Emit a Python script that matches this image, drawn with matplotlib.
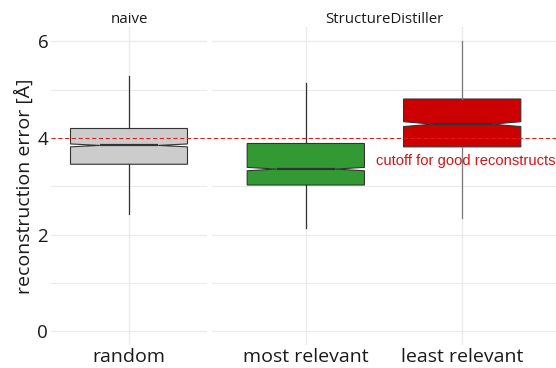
import matplotlib
matplotlib.use("Agg")
import matplotlib.pyplot as plt
from matplotlib.transforms import blended_transform_factory

# facets and the categories inside each
facets = ["naive", "StructureDistiller"]
facet_groups = [["random"], ["most relevant", "least relevant"]]

# box statistics per category (reconstruction error, Å), in facet order
whislo = [2.43, 2.14, 2.35]
q1 = [3.46, 3.03, 3.82]
med = [3.85, 3.36, 4.29]
q3 = [4.20, 3.89, 4.81]
whishi = [5.28, 5.15, 6.00]
notch_half = [0.03, 0.035, 0.05]

fills = ["#cccccc", "#339933", "#cc0000"]
whisker_colors = ["#333333", "#333333", "#7a7a7a"]

cutoff = 4.0
cutoff_label = "cutoff for good reconstructs"

plt.rcParams["font.family"] = ["Open Sans", "DejaVu Sans"]

W, H = 556, 368
fig = plt.figure(figsize=(W / 100, H / 100), dpi=100)

top_px, bot_px = 27, 345
panels_px = [(51, 207), (212, 556)]
axes = []
for (l, r) in panels_px:
    ax = fig.add_axes([l / W, 1 - bot_px / H, (r - l) / W, (bot_px - top_px) / H])
    axes.append(ax)

grid_col = "#ebebeb"
idx = 0
for ax, title, groups in zip(axes, facets, facet_groups):
    n = len(groups)
    stats = []
    for k in range(n):
        i = idx + k
        stats.append(dict(med=med[i], q1=q1[i], q3=q3[i],
                          whislo=whislo[i], whishi=whishi[i],
                          cilo=med[i] - notch_half[i], cihi=med[i] + notch_half[i],
                          fliers=[]))
    ax.set_ylim(-0.28, 6.30)
    if n == 1:
        ax.set_xlim(-0.5, 0.5)
    else:
        ax.set_xlim(-0.6, n - 0.4)
    # grid
    for y in range(0, 7):
        ax.axhline(y, color=grid_col, lw=1.0 if y % 2 == 0 else 0.8, zorder=0)
    for k in range(n):
        ax.axvline(k, color=grid_col, lw=1.0, zorder=0)

    bp = ax.bxp(stats, positions=list(range(n)), widths=0.75, shownotches=True,
                showcaps=False, showfliers=False, patch_artist=True,
                boxprops=dict(edgecolor="#333333", linewidth=0.8),
                medianprops=dict(color="#333333", linewidth=1.6),
                whiskerprops=dict(linewidth=0.9),
                zorder=3)
    for k in range(n):
        bp["boxes"][k].set_facecolor(fills[idx + k])
        for w in bp["whiskers"][2 * k:2 * k + 2]:
            w.set_color(whisker_colors[idx + k])

    ax.set_xticks(range(n))
    ax.set_xticklabels(groups, fontsize=14, color="#1a1a1a")
    ax.tick_params(axis="x", length=0, pad=2)
    ax.set_yticks([0, 2, 4, 6])
    if ax is axes[0]:
        ax.set_yticklabels(["0", "2", "4", "6"], fontsize=13.5, color="#1a1a1a")
        ax.tick_params(axis="y", length=0, pad=2)
        ax.set_ylabel("reconstruction error [Å]", fontsize=14, color="#1a1a1a", labelpad=3)
    else:
        ax.tick_params(axis="y", length=0, labelleft=False)
    for s in ax.spines.values():
        s.set_visible(False)
    ax.set_title(title, fontsize=10.8, color="#1a1a1a", pad=2.5)
    idx += n

# cutoff line spans both panels
trans = blended_transform_factory(fig.transFigure, axes[0].transData)
fig.add_artist(plt.Line2D([panels_px[0][0] / W, 1.0], [cutoff, cutoff], transform=trans,
                          color="#e31a1c", lw=0.75, dashes=(4, 2.5), zorder=5))
axes[1].text(0.998, 3.52, cutoff_label, transform=blended_transform_factory(axes[1].transAxes, axes[1].transData),
             ha="right", va="center", fontsize=10.6, color="#dd1111", family="Liberation Sans")

fig.savefig("out.png", dpi=100)
